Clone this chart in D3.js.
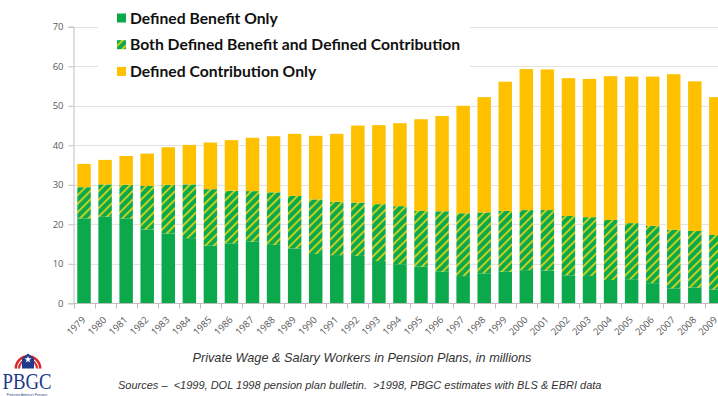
<!DOCTYPE html>
<html>
<head>
<meta charset="utf-8">
<script src="https://cdn.jsdelivr.net/npm/d3@7/dist/d3.min.js"></script>
<style>
  html, body { margin: 0; padding: 0; background: #fff; }
  svg { display: block; }
</style>
</head>
<body>
<svg id="chart" width="718" height="396"></svg>
<script>
// Private wage & salary workers in pension plans, millions
const years = ["1979","1980","1981","1982","1983","1984","1985","1986","1987","1988",
  "1989","1990","1991","1992","1993","1994","1995","1996","1997","1998",
  "1999","2000","2001","2002","2003","2004","2005","2006","2007","2008","2009"];
const dbOnly = [21.5,21.9,21.5,18.7,17.7,16.5,14.6,15.2,15.6,14.8,13.9,12.5,12.2,12.0,10.7,9.9,
  9.3,8.0,6.9,7.6,8.0,8.4,8.3,7.1,6.9,5.9,6.1,5.1,3.8,4.0,3.5];
const bothDbDc = [7.9,8.2,8.5,11.0,12.3,13.6,14.3,13.3,12.8,13.3,13.3,13.8,13.5,13.5,14.4,14.7,
  14.1,15.3,15.9,15.4,15.4,15.2,15.3,15.0,14.9,15.2,14.2,14.5,14.8,14.3,13.8];
const dcOnly = [5.9,6.2,7.3,8.2,9.5,10.0,11.8,12.8,13.5,14.2,15.7,16.1,17.2,19.5,20.0,21.0,
  23.2,24.1,27.2,29.2,32.7,35.7,35.6,34.9,35.0,36.4,37.1,37.8,39.4,37.9,34.9];
const seriesKeys = ["db", "both", "dc"];
const seriesNames = ["Defined Benefit Only", "Both Defined Benefit and Defined Contribution", "Defined Contribution Only"];
const yTicks = [0, 10, 20, 30, 40, 50, 60, 70];
const caption = "Private Wage & Salary Workers in Pension Plans, in millions";
const sources = "Sources \u2013  <1999, DOL 1998 pension plan bulletin.  >1998, PBGC estimates with BLS & EBRI data";

const GREEN = "#0BA94C", YELLOW = "#FFC000";

const rows = years.map((y, i) => ({ year: y, db: dbOnly[i], both: bothDbDc[i], dc: dcOnly[i] }));
const stacked = d3.stack().keys(seriesKeys)(rows);

const svg = d3.select("#chart");

// hatch fill for the "both" series
const defs = svg.append("defs");
const pat = defs.append("pattern")
  .attr("id", "hatch").attr("patternUnits", "userSpaceOnUse")
  .attr("width", 6).attr("height", 6)
  .attr("patternTransform", "rotate(45)");
pat.append("rect").attr("width", 6).attr("height", 6).attr("fill", GREEN);
pat.append("rect").attr("x", 0).attr("width", 1.8).attr("height", 6).attr("fill", "#D8D21A");

const fills = { db: GREEN, both: "url(#hatch)", dc: YELLOW };

const x = d3.scaleBand().domain(years).range([73.5, 726.4]).paddingInner(0.36).paddingOuter(0.18);
const y = d3.scaleLinear().domain([0, 70]).range([303.3, 26.8]);

// gridlines
svg.append("g").selectAll("line").data(yTicks.filter(t => t > 0)).join("line")
  .attr("x1", 73.5).attr("x2", 718)
  .attr("y1", d => Math.round(y(d)) + 0.5).attr("y2", d => Math.round(y(d)) + 0.5)
  .attr("stroke", "#E3E3E3").attr("stroke-width", 1);

// y axis
const yAxis = svg.append("g").attr("transform", "translate(73.5,0)")
  .call(d3.axisLeft(y).tickValues(yTicks).tickSize(5).tickPadding(5));
yAxis.select(".domain").attr("stroke", "#BFBFBF");
yAxis.selectAll(".tick line").attr("stroke", "#BFBFBF");
yAxis.selectAll(".tick text").attr("fill", "#595959")
  .style("font-family", "'Open Sans', 'DejaVu Sans', sans-serif").style("font-size", "9.5px");

// bars
svg.append("g").selectAll("g").data(stacked).join("g")
  .attr("fill", d => fills[d.key])
  .selectAll("rect").data(d => d).join("rect")
  .attr("x", d => x(d.data.year))
  .attr("width", x.bandwidth())
  .attr("y", d => y(d[1]))
  .attr("height", d => y(d[0]) - y(d[1]));

// x axis with ticks between categories
const xg = svg.append("g").attr("transform", `translate(0,${Math.round(y(0)) + 0.5})`);
xg.append("line").attr("x1", 73.5).attr("x2", 718).attr("stroke", "#BFBFBF");
const boundaries = years.map(d => x(d) - x.step() * 0.18);
xg.selectAll("line.tk").data(boundaries).join("line").attr("class", "tk")
  .attr("x1", d => Math.round(d) + 0.5).attr("x2", d => Math.round(d) + 0.5)
  .attr("y1", 0).attr("y2", 5).attr("stroke", "#BFBFBF");
xg.selectAll("text").data(years).join("text")
  .attr("transform", d => `translate(${x(d) + x.bandwidth() / 2 + 2},${17}) rotate(-45)`)
  .attr("text-anchor", "end")
  .attr("fill", "#595959")
  .style("font-family", "'Open Sans', 'DejaVu Sans', sans-serif").style("font-size", "9.5px")
  .text(d => d);

// legend
svg.append("rect").attr("x", 98).attr("y", 0).attr("width", 372).attr("height", 80).attr("fill", "#fff");
const lg = svg.append("g").selectAll("g").data(seriesKeys).join("g")
  .attr("transform", (d, i) => `translate(117,${18 + i * 26.7})`);
lg.append("rect").attr("x", 0).attr("y", -4.5).attr("width", 9).attr("height", 9)
  .attr("fill", d => fills[d]);
lg.append("text").attr("x", 13).attr("y", 0).attr("dy", "0.35em")
  .attr("fill", "#111")
  .style("font-family", "Lato, 'Open Sans', sans-serif").style("font-weight", "bold")
  .style("font-size", "15.7px")
  .text((d, i) => seriesNames[i]);

// caption and sources
svg.append("text").attr("x", 362).attr("y", 362).attr("text-anchor", "middle")
  .attr("fill", "#333")
  .style("font-family", "'Liberation Sans', Arial, sans-serif").style("font-style", "italic")
  .style("font-size", "12.7px").text(caption);
svg.append("text").attr("x", 118).attr("y", 389)
  .attr("fill", "#333").style("white-space", "pre")
  .style("font-family", "'Liberation Sans', Arial, sans-serif").style("font-style", "italic")
  .style("font-size", "11px").text(sources);

// PBGC mark
const logo = svg.append("g").attr("transform", "translate(0,345)");
const arc = d3.arc();
const cx = 28, cy = 23.5;
logo.append("path").attr("transform", `translate(${cx},${cy})`)
  .attr("d", arc({ innerRadius: 8, outerRadius: 13.5, startAngle: -Math.PI / 2, endAngle: Math.PI / 2 }))
  .attr("fill", "#D7282F");
logo.append("path").attr("transform", `translate(${cx},${cy})`)
  .attr("d", arc({ innerRadius: 10, outerRadius: 10.9, startAngle: -Math.PI / 2, endAngle: Math.PI / 2 }))
  .attr("fill", "#fff");
logo.append("path").attr("transform", `translate(${cx},${cy})`)
  .attr("d", "M-6,0 L-6,-10 L0,-15 L6,-10 L6,0 Z").attr("fill", "#1F3A8A");
logo.append("path").attr("transform", `translate(${cx},${cy - 9})`)
  .attr("d", d3.symbol(d3.symbolStar, 16)()).attr("fill", "#fff");
logo.append("text").attr("x", 27).attr("y", 44).attr("text-anchor", "middle")
  .attr("fill", "#1F3A8A")
  .style("font-family", "'Liberation Serif', 'DejaVu Serif', serif")
  .style("font-size", "23px").attr("textLength", 49).attr("lengthAdjust", "spacingAndGlyphs")
  .text("PBGC");
logo.append("text").attr("x", 27).attr("y", 50.5).attr("text-anchor", "middle")
  .attr("fill", "#1F3A8A").style("font-family", "'Liberation Sans', sans-serif")
  .style("font-size", "3px").text("Protecting America's Pensions");
</script>
</body>
</html>
